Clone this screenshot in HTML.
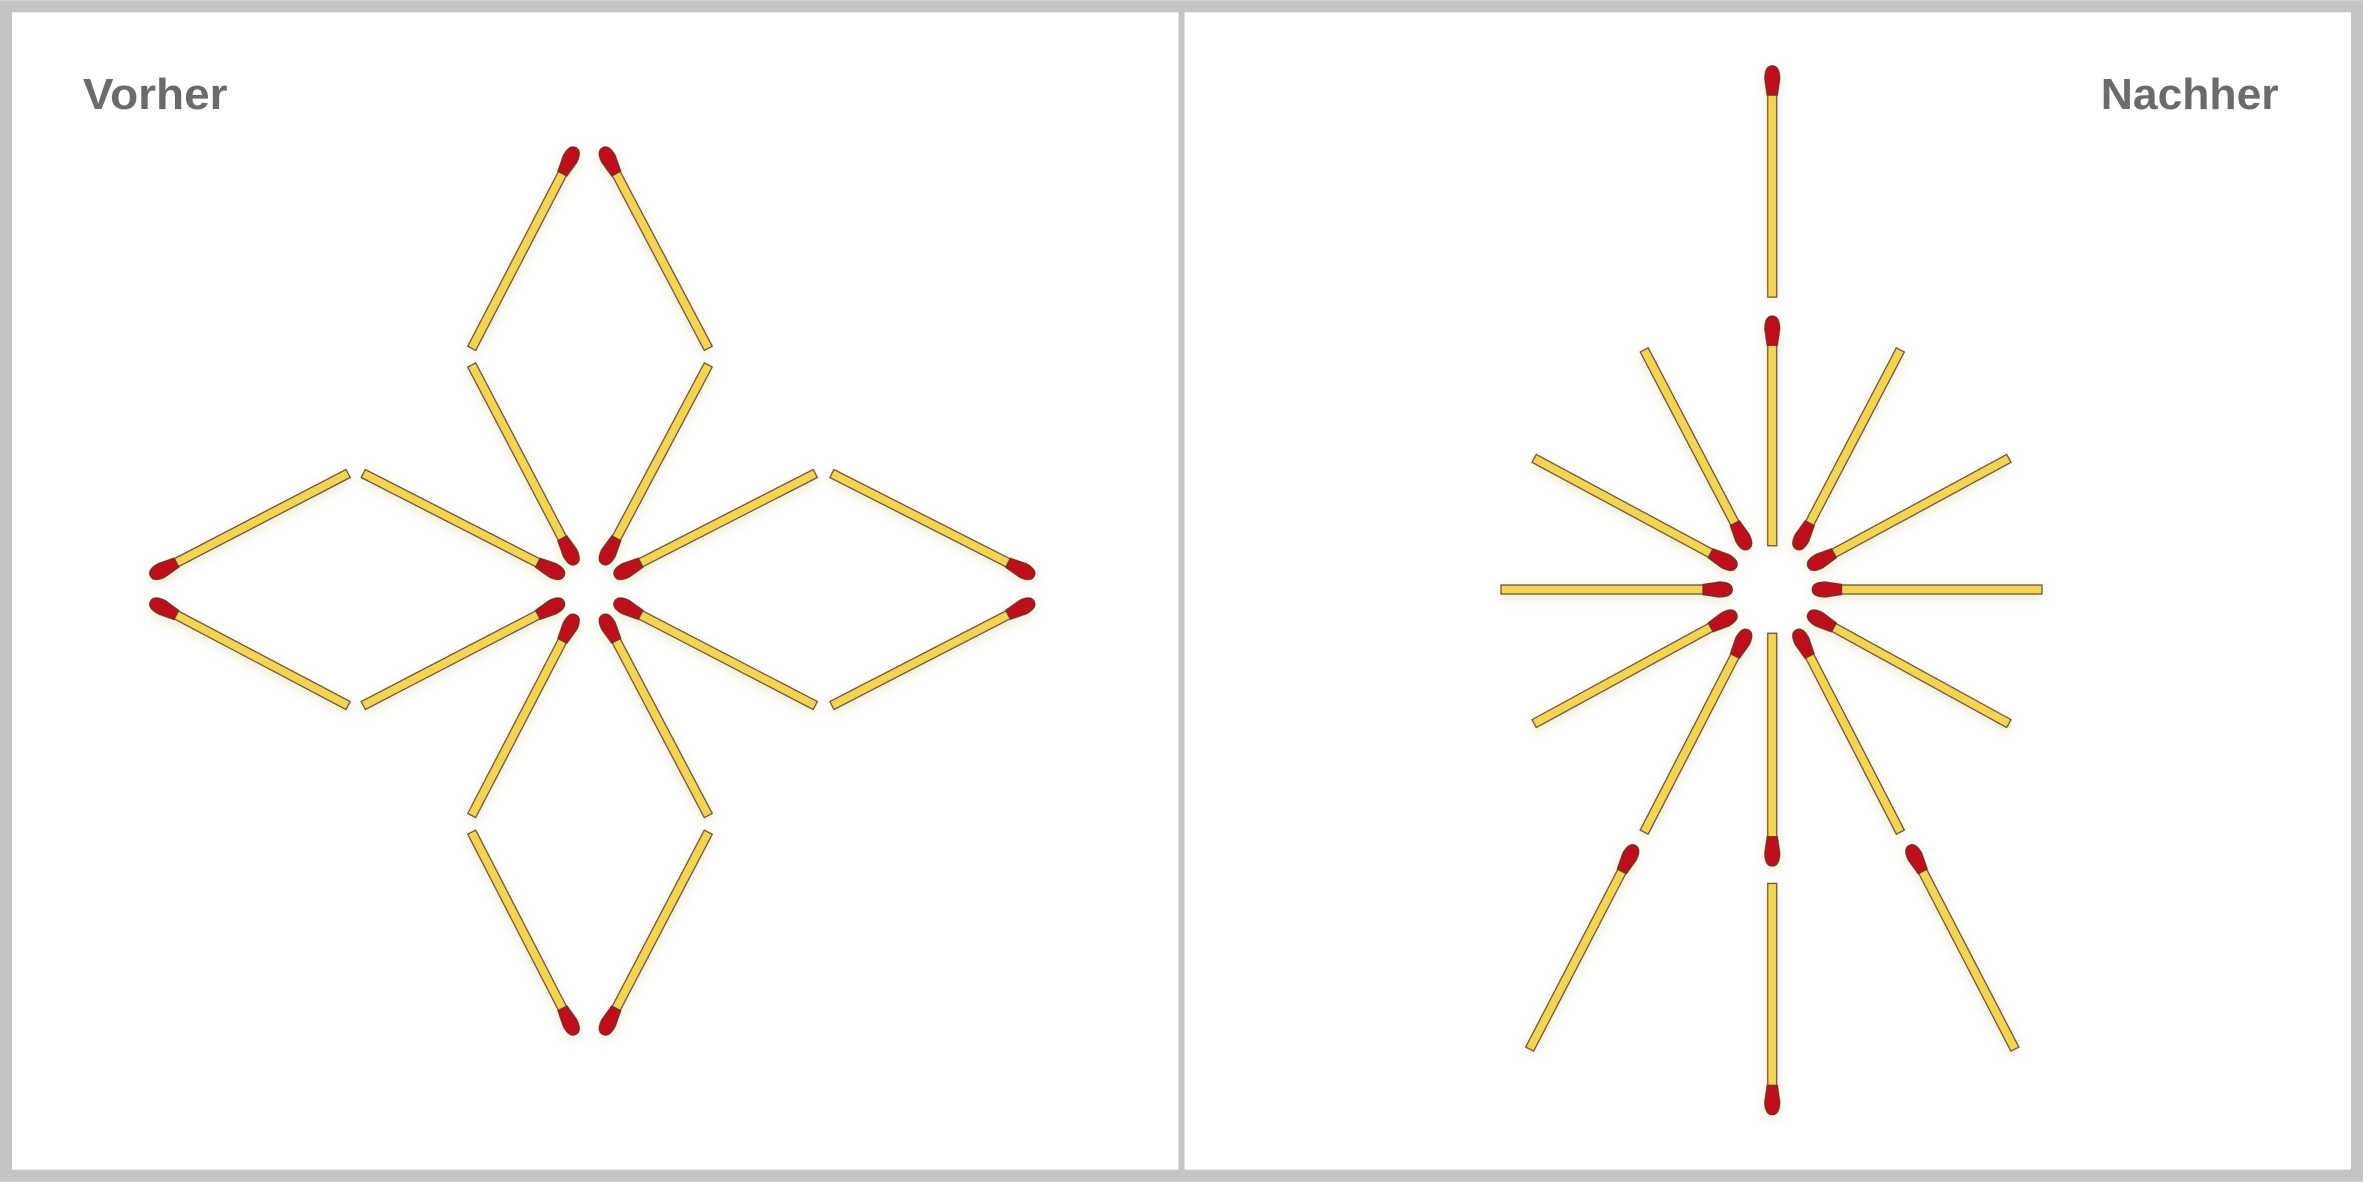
<!DOCTYPE html>
<html><head><meta charset="utf-8"><style>
html,body{margin:0;padding:0;background:#fff}
svg{display:block}
</style></head><body>
<svg width="2363" height="1182" viewBox="0 0 1568 784" xmlns="http://www.w3.org/2000/svg">
<defs>
<filter id="glow" x="-20%" y="-20%" width="140%" height="140%">
<feGaussianBlur in="SourceAlpha" stdDeviation="3.5"/>
<feOffset dx="0" dy="2"/>
<feComponentTransfer><feFuncA type="linear" slope="0.5"/></feComponentTransfer>
<feColorMatrix type="matrix" values="0 0 0 0 0.7  0 0 0 0 0.62  0 0 0 0 0.3  0 0 0 1 0"/>
<feMerge><feMergeNode/><feMergeNode in="SourceGraphic"/></feMerge>
</filter>
</defs>
<rect x="0" y="0" width="1568" height="784" fill="#c4c4c4"/>
<rect x="8" y="8" width="774" height="768" fill="#fff"/>
<rect x="786" y="8" width="774" height="768" fill="#fff"/>
<text x="55" y="72" font-family="Liberation Sans, sans-serif" font-weight="bold" font-size="29" fill="#6b6b6b" textLength="96" lengthAdjust="spacingAndGlyphs">Vorher</text>
<text x="1394" y="72" font-family="Liberation Sans, sans-serif" font-weight="bold" font-size="29" fill="#6b6b6b" textLength="118" lengthAdjust="spacingAndGlyphs">Nachher</text>
<g id="matches" filter="url(#glow)"></g>
<script>
// each match: [tailX, tailY, headX, headY]
const beforeMatches=[
[313,231,381,100],[470,231,401,100],[313,242,381,372],[470,242,401,372],
[313,541,381,410],[470,541,401,410],[313,552,381,684],[470,552,401,684],
[231,314,102,381],[231,468,102,400],[241,314,372,381],[241,468,372,400],
[541,314,410,381],[541,468,410,400],[552,314,684,381],[552,468,684,400]];
const afterMatches=[
[1176,197,1176,46],[1176,362,1176,212],[1176,420,1176,572],[1176,586,1176,737],
[996,391,1147,391],[1355,391,1205,391],
[1091,232,1159,362],[1261,232,1193,362],
[1018,304,1150,375],[1333,304,1202,375],
[1018,480,1150,408],[1333,480,1202,408],
[1091,552,1159,420],[1261,552,1193,420],
[1015,696,1084,563],[1337,696,1268,563]];
const NS='http://www.w3.org/2000/svg';
const g=document.getElementById('matches');
function draw(list,prefix){
list.forEach((m,i)=>{
const [x1,y1,x2,y2]=m;const dx=x2-x1,dy=y2-y1;const L=Math.hypot(dx,dy)+2;const a=Math.atan2(dy,dx)*180/Math.PI;
const grp=document.createElementNS(NS,'g');
grp.setAttribute('transform',`translate(${x1},${y1}) rotate(${a})`);


const st=document.createElementNS(NS,'rect');
st.setAttribute('x',0);st.setAttribute('y',-3);st.setAttribute('width',L-12);st.setAttribute('height',6);
st.setAttribute('fill','#f6d452');st.setAttribute('stroke','#5a4a3a');st.setAttribute('stroke-width','0.8');
grp.appendChild(st);
const h=document.createElementNS(NS,'path');
const s=L-19;
h.setAttribute('d',`M${s},-3.4 L${L-8},-5 Q${L+0.5},-4.8 ${L+0.5},0 Q${L+0.5},4.8 ${L-8},5 L${s},3.4 Z`);
h.setAttribute('fill','#c0101c');h.setAttribute('stroke','#5a3a30');h.setAttribute('stroke-width','0.8');
grp.appendChild(h);
g.appendChild(grp);
});
}
draw(beforeMatches,'before');
draw(afterMatches,'after');
</script>
</svg>
</body></html>
